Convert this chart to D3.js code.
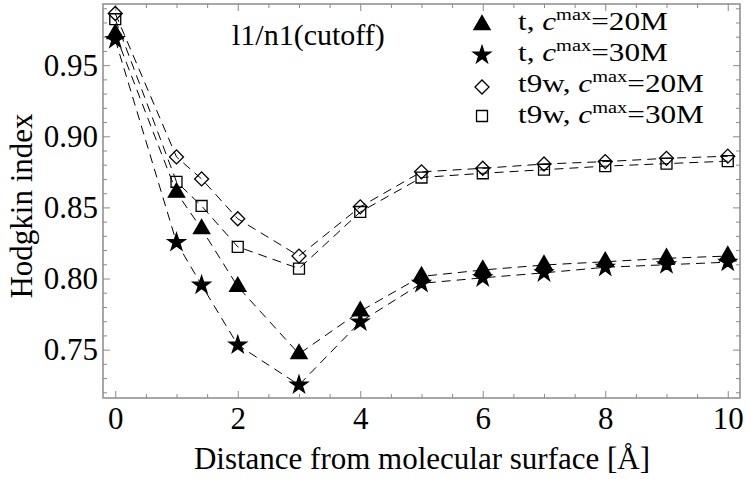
<!DOCTYPE html>
<html><head><meta charset="utf-8">
<script src="https://cdn.jsdelivr.net/npm/d3@7"></script>
<style>body{margin:0;background:#fff}text{font-family:"Liberation Serif","Times New Roman",serif;fill:#000}</style>
</head><body><svg id="c" width="750" height="479"></svg>
<script>
// ---- data ----
const distances = [0, 1, 1.41, 2, 3, 4, 5, 6, 7, 8, 9, 10];
const tC20   = [0.972, 0.8605, 0.8348, 0.7943, 0.747, 0.777, 0.8015, 0.806, 0.8095, 0.8118, 0.8142, 0.8158];
const tC30   = [0.968, 0.8254, 0.7954, 0.7533, 0.7252, 0.7695, 0.7966, 0.8005, 0.804, 0.8079, 0.8097, 0.8115];
const t9wC20 = [0.9863, 0.8855, 0.870, 0.842, 0.8158, 0.8504, 0.875, 0.8775, 0.8805, 0.8822, 0.8845, 0.886];
const t9wC30 = [0.9823, 0.868, 0.851, 0.8223, 0.807, 0.8468, 0.871, 0.874, 0.8765, 0.879, 0.8808, 0.8825];
const seriesPrefix = ["t", "t", "t9w", "t9w"];
const seriesCmax = ["20M", "30M", "20M", "30M"];
const xTickValues = [0, 2, 4, 6, 8, 10];
const yTickValues = [0.75, 0.80, 0.85, 0.90, 0.95];
const yTickLabels = ["0.75", "0.80", "0.85", "0.90", "0.95"];
const titleText = "l1/n1(cutoff)";
const xTitle = "Distance from molecular surface [Å]";
const yTitle = "Hodgkin index";

// ---- layout ----
const svg = d3.select("#c");
const L = 103, R = 740, T = 4, B = 398;
const x = d3.scaleLinear().domain([-0.2, 10.2]).range([L, R]);
const y = d3.scaleLinear().domain([0.716, 0.993]).range([B, T]);
const frameColor = "#8a8a8a";

const xMinor = d3.range(0, 10.01, 0.5).filter(v => Math.abs(v % 2) > 1e-6);
const yMinor = d3.range(72, 100, 1).map(v => v / 100).filter(v => !yTickValues.some(t => Math.abs(t - v) < 1e-6));

function styleAxis(g) {
  g.select(".domain").remove();
  g.selectAll(".tick line").attr("stroke", frameColor).attr("stroke-width", 1);
  g.selectAll("text").style("font-size", "31px").attr("fill", "#000");
}
// bottom
svg.append("g").attr("transform", `translate(0,${B})`)
  .call(d3.axisBottom(x).tickValues(xTickValues).tickSize(-7).tickPadding(9).tickFormat(d3.format("d")))
  .call(styleAxis);
svg.append("g").attr("transform", `translate(0,${B})`)
  .call(d3.axisBottom(x).tickValues(xMinor).tickSize(-4).tickFormat(""))
  .call(styleAxis);
// top
svg.append("g").attr("transform", `translate(0,${T})`)
  .call(d3.axisTop(x).tickValues(xTickValues).tickSize(-7).tickFormat(""))
  .call(styleAxis);
svg.append("g").attr("transform", `translate(0,${T})`)
  .call(d3.axisTop(x).tickValues(xMinor).tickSize(-4).tickFormat(""))
  .call(styleAxis);
// left
svg.append("g").attr("transform", `translate(${L},0)`)
  .call(d3.axisLeft(y).tickValues(yTickValues).tickSize(-7).tickPadding(5).tickFormat((d, i) => yTickLabels[i]))
  .call(styleAxis);
svg.append("g").attr("transform", `translate(${L},0)`)
  .call(d3.axisLeft(y).tickValues(yMinor).tickSize(-4).tickFormat(""))
  .call(styleAxis);
// right
svg.append("g").attr("transform", `translate(${R},0)`)
  .call(d3.axisRight(y).tickValues(yTickValues).tickSize(-7).tickFormat(""))
  .call(styleAxis);
svg.append("g").attr("transform", `translate(${R},0)`)
  .call(d3.axisRight(y).tickValues(yMinor).tickSize(-4).tickFormat(""))
  .call(styleAxis);

// frame
svg.append("rect").attr("x", L).attr("y", T).attr("width", R - L).attr("height", B - T)
  .attr("fill", "none").attr("stroke", frameColor).attr("stroke-width", 1.5);

// ---- series ----
const seriesValues = [tC20, tC30, t9wC20, t9wC30];
const symbols = [
  { type: d3.symbolTriangle, size: 115, fill: "#000", rot: 0 },
  { type: d3.symbolStar, size: 95, fill: "#000", rot: 0 },
  { type: d3.symbolSquare, size: 98, fill: "none", rot: 45 },
  { type: d3.symbolSquare, size: 120, fill: "none", rot: 0 }
];
const line = d3.line().x(d => x(d[0])).y(d => y(d[1]));
const plot = svg.append("g");
seriesValues.forEach(vals => {
  plot.append("path").datum(distances.map((d, i) => [d, vals[i]]))
    .attr("d", line).attr("fill", "none").attr("stroke", "#000")
    .attr("stroke-width", 1).attr("stroke-dasharray", "9,6");
});
function drawSymbol(g, s, cx, cy) {
  g.append("path").attr("d", d3.symbol().type(s.type).size(s.size)())
    .attr("transform", `translate(${cx},${cy}) rotate(${s.rot})`)
    .attr("fill", s.fill).attr("stroke", "#000").attr("stroke-width", 1.3);
}
[3, 2, 1, 0].forEach(k => {
  const vals = seriesValues[k];
  distances.forEach((d, i) => drawSymbol(plot, symbols[k], x(d), y(vals[i])));
});

// ---- title inside plot ----
svg.append("text").attr("x", 232).attr("y", 45).style("font-size", "30px").text(titleText);

// ---- legend ----
const legendRowsY = [25, 55, 87, 116];
const legendBase = [30, 61, 92, 123];
const leg = svg.append("g");
seriesPrefix.forEach((p, i) => {
  drawSymbol(leg, symbols[i], 482, legendRowsY[i]);
  const t = leg.append("text").attr("transform", `translate(518,${legendBase[i]}) scale(1.2,1)`)
    .style("font-size", "26px");
  t.append("tspan").text(p + ", ");
  t.append("tspan").style("font-style", "italic").text("c");
  t.append("tspan").attr("dy", -10).style("font-size", "17px").text("max");
  t.append("tspan").attr("dy", 10).text("=" + seriesCmax[i]);
});

// ---- axis titles ----
svg.append("text").attr("x", 422).attr("y", 469).attr("text-anchor", "middle")
  .style("font-size", "31px").text(xTitle);
svg.append("text").attr("transform", "translate(32,206) rotate(-90)").attr("text-anchor", "middle")
  .style("font-size", "31px").text(yTitle);
</script>
</body></html>
